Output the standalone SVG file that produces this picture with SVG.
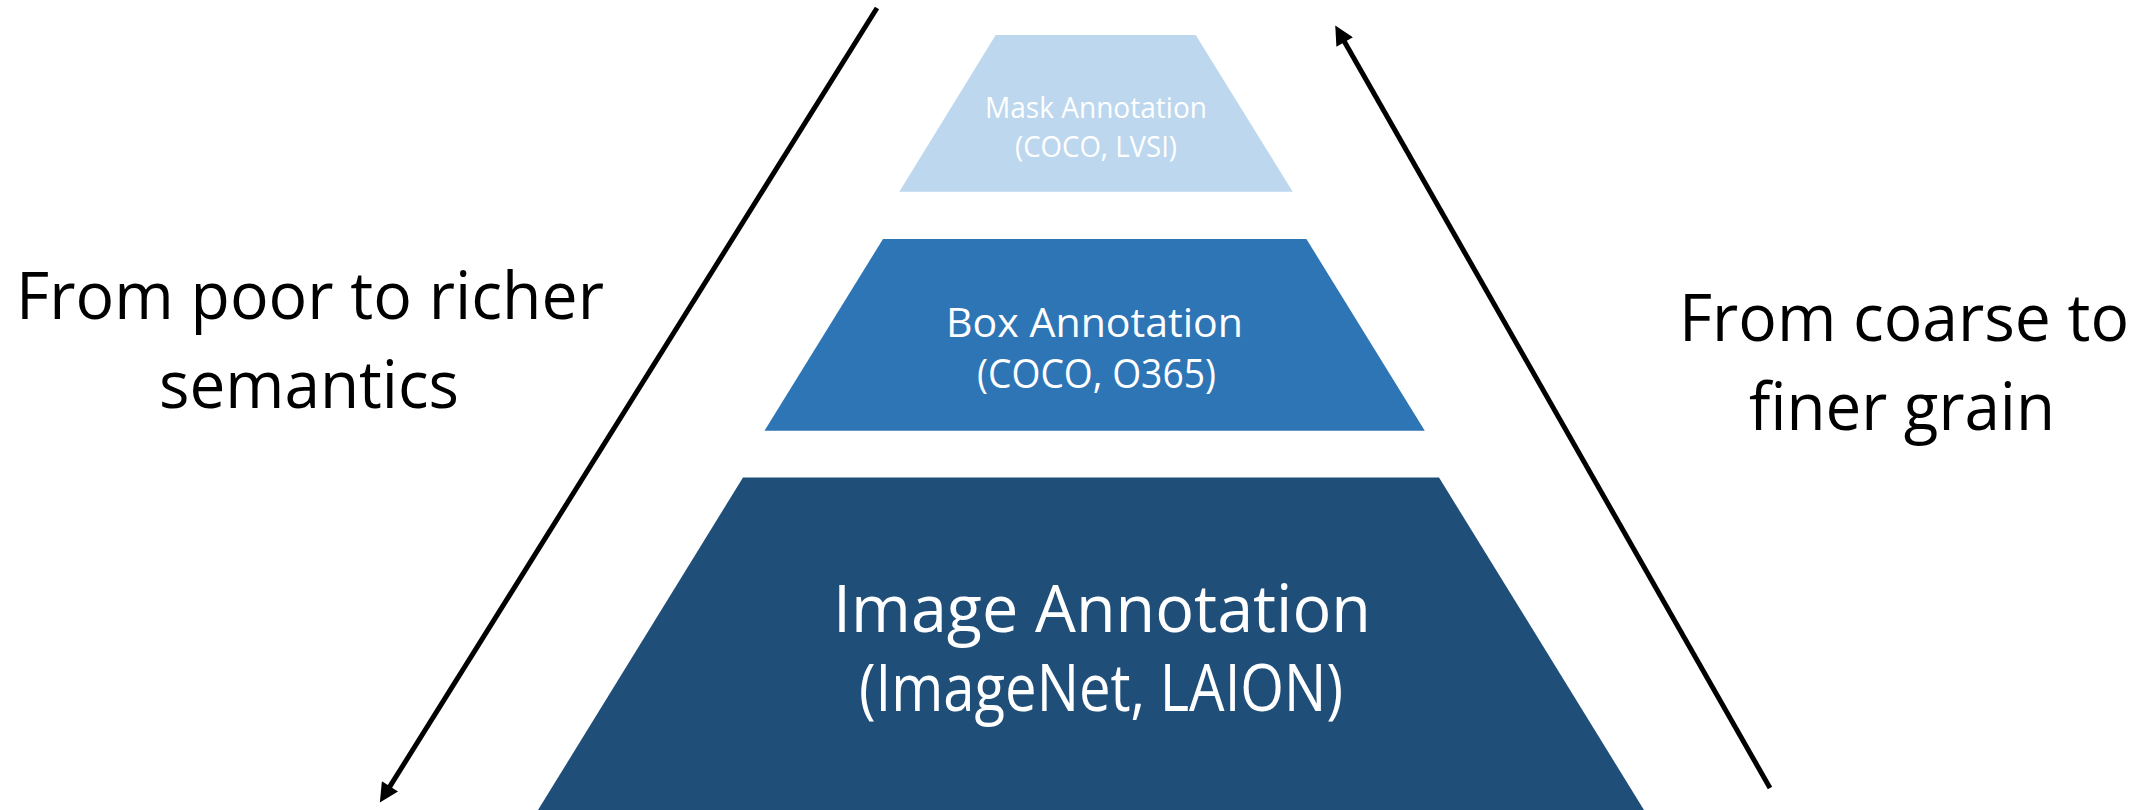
<svg xmlns="http://www.w3.org/2000/svg" width="2153" height="810" viewBox="0 0 2153 810">
<style>
  .lbl { font-family: "Open Sans", "Noto Sans", "Liberation Sans", sans-serif; fill: #ffffff; text-anchor: middle; }
  .side { font-family: "Open Sans", "Noto Sans", "Liberation Sans", sans-serif; fill: #000000; text-anchor: middle; font-size: 66px; }
  .arrow { stroke: #000000; stroke-width: 5; fill: none; marker-end: url(#head); }
</style>
<defs>
  <marker id="head" viewBox="0 0 10 10" refX="4" refY="5" markerWidth="4" markerHeight="3.8" orient="auto" markerUnits="strokeWidth">
    <path d="M0,0 L10,5 L0,10 z" fill="#000000"/>
  </marker>
</defs>
<rect width="2153" height="810" fill="#ffffff"/>

<g id="connectors">
  <path class="arrow" d="M877,8 L385.9,792.8"/>
  <path class="arrow" d="M1770,788 L1340.9,35.4"/>
</g>

<g id="mask">
  <polygon points="995.7,35 1195.7,35 1292.7,191.7 899.3,191.7" fill="#BDD7EE"/>
  <text class="lbl" x="1096" y="118" font-size="30" textLength="222" lengthAdjust="spacingAndGlyphs">Mask Annotation</text>
  <text class="lbl" x="1096" y="157" font-size="30" textLength="162" lengthAdjust="spacingAndGlyphs">(COCO, LVSI)</text>
</g>

<g id="box">
  <polygon points="883,239 1306.4,239 1424.8,430.7 764.5,430.7" fill="#2E75B6"/>
  <text class="lbl" x="1094.5" y="337" font-size="40" textLength="297" lengthAdjust="spacingAndGlyphs">Box Annotation</text>
  <text class="lbl" x="1096.5" y="388" font-size="40" textLength="239" lengthAdjust="spacingAndGlyphs">(COCO, O365)</text>
</g>

<g id="image">
  <polygon points="743,477.5 1439,477.5 1644,810 538,810" fill="#1F4E79"/>
  <text class="lbl" x="1102" y="632" font-size="66" textLength="538" lengthAdjust="spacingAndGlyphs">Image Annotation</text>
  <text class="lbl" x="1101" y="711" font-size="66" textLength="484" lengthAdjust="spacingAndGlyphs">(ImageNet, LAION)</text>
</g>

<g id="left-label">
  <text class="side" x="310" y="319" textLength="588" lengthAdjust="spacingAndGlyphs">From poor to richer</text>
  <text class="side" x="309" y="408" textLength="300" lengthAdjust="spacingAndGlyphs">semantics</text>
</g>

<g id="right-label">
  <text class="side" x="1904" y="341" textLength="450" lengthAdjust="spacingAndGlyphs">From coarse to</text>
  <text class="side" x="1902" y="430" textLength="306" lengthAdjust="spacingAndGlyphs">finer grain</text>
</g>
</svg>
